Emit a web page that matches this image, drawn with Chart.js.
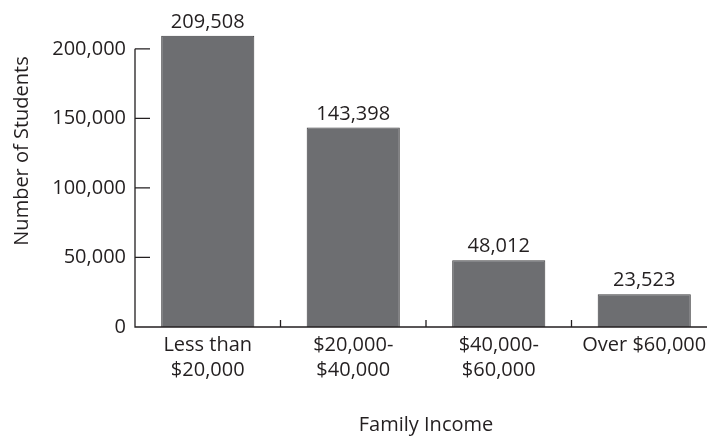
<!DOCTYPE html>
<html>
<head>
<meta charset="utf-8">
<script src="https://cdn.jsdelivr.net/npm/chart.js@4/dist/chart.umd.min.js"></script>
<style>
  html, body { margin: 0; padding: 0; background: #fff; overflow: hidden; }
  #wrap { position: relative; width: 717px; height: 438px; }
</style>
</head>
<body>
<div id="wrap"><canvas id="incomeBar"></canvas></div>
<script>
// Data ================================
const incomeLabels = [['Less than', '$20,000'], ['$20,000-', '$40,000'], ['$40,000-', '$60,000'], 'Over $60,000'];
const studentCounts = [209508, 143398, 48012, 23523];
const yTickValues = [0, 50000, 100000, 150000, 200000];
const xTitle = 'Family Income';
const yTitle = 'Number of Students';

const textColor = '#231f20';
const fontFamily = "'Open Sans', sans-serif";

Chart.defaults.font.family = fontFamily;
Chart.defaults.font.size = 20;
Chart.defaults.color = textColor;

// Axis lines, inward ticks, value labels and y title
const axesPlugin = {
  id: 'axesPlugin',
  afterDatasetsDraw(chart) {
    const ctx = chart.ctx;
    const x = chart.scales.x;
    const y = chart.scales.y;
    const left = chart.chartArea.left;
    const y0 = y.getPixelForValue(0);
    const yTop = y.getPixelForValue(yTickValues[yTickValues.length - 1]);
    ctx.save();
    ctx.strokeStyle = textColor;
    ctx.lineWidth = 1.3;
    ctx.beginPath();
    ctx.moveTo(left, yTop);
    ctx.lineTo(left, y0);
    ctx.lineTo(chart.chartArea.right, y0);
    yTickValues.forEach(v => {
      const py = y.getPixelForValue(v);
      ctx.moveTo(left, py);
      ctx.lineTo(left + 15, py);
    });
    for (let i = 1; i <= incomeLabels.length; i++) {
      const px = (x.getPixelForValue(i - 1) + x.getPixelForValue(i)) / 2;
      ctx.moveTo(px, y0);
      ctx.lineTo(px, y0 - 7);
    }
    ctx.stroke();

    // value labels above bars
    ctx.fillStyle = textColor;
    ctx.font = '20px ' + fontFamily;
    ctx.textAlign = 'center';
    ctx.textBaseline = 'alphabetic';
    chart.getDatasetMeta(0).data.forEach((bar, i) => {
      ctx.fillText(studentCounts[i].toLocaleString('en-US'), bar.x, bar.y - 8);
    });

    // y title
    ctx.translate(22, 151);
    ctx.rotate(-Math.PI / 2);
    ctx.textBaseline = 'middle';
    ctx.fillText(yTitle, 0, 0);
    ctx.restore();
  }
};

const incomeBar = new Chart(document.getElementById('incomeBar'), {
  type: 'bar',
  data: {
    labels: incomeLabels,
    datasets: [{
      label: 'Students',
      data: studentCounts,
      backgroundColor: '#6d6e71',
      borderColor: '#3e3e40',
      borderWidth: 1,
      barPercentage: 0.64,
      categoryPercentage: 1
    }]
  },
  options: {
    responsive: true,
    maintainAspectRatio: false,
    animation: false,
    layout: { padding: { top: 28, right: 0, left: 0, bottom: 0 } },
    plugins: {
      legend: { display: false },
      tooltip: { enabled: false }
    },
    scales: {
      x: {
        grid: { display: false, drawTicks: false },
        border: { display: false },
        ticks: {
          padding: 6,
          maxRotation: 0,
          autoSkip: false,
          font: { size: 20, lineHeight: 1.25 }
        },
        title: {
          display: true,
          text: xTitle,
          font: { size: 20, lineHeight: 1.2 },
          padding: { top: 0, bottom: 1 }
        },
        afterFit(scale) { scale.height = 111; }
      },
      y: {
        min: 0,
        max: 215000,
        grid: { display: false, drawTicks: false },
        border: { display: false },
        ticks: {
          stepSize: 50000,
          padding: 9,
          callback: v => v.toLocaleString('en-US')
        },
        afterBuildTicks(scale) {
          scale.ticks = yTickValues.map(v => ({ value: v }));
        },
        afterFit(scale) { scale.width = 135; }
      }
    }
  },
  plugins: [axesPlugin]
});
</script>
</body>
</html>
